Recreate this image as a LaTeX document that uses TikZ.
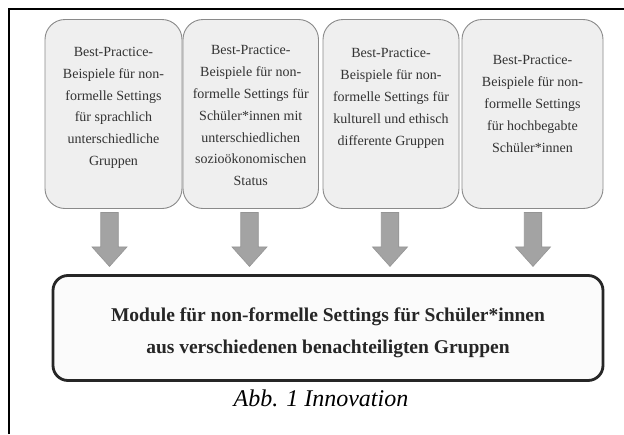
\documentclass[tikz,border=0pt]{standalone}
\usepackage{fontspec}
\setmainfont{Liberation Serif}
\usetikzlibrary{calc}
\definecolor{boxfill}{HTML}{EFEFEF}
\definecolor{boxline}{HTML}{8A8A8A}
\definecolor{txtgray}{HTML}{333333}
\definecolor{arrfill}{HTML}{A3A3A3}
\definecolor{arrline}{HTML}{959595}
\definecolor{mainline}{HTML}{262626}
\definecolor{mainfill}{HTML}{FBFBFB}
\tikzset{
  srcbox/.style={draw=boxline, line width=0.9pt, fill=boxfill, rounded corners=20pt, minimum height=189pt, inner sep=0pt},
  srctext/.style={align=center, text=txtgray, font=\fontsize{14}{21.8}\selectfont, inner sep=0pt, anchor=north},
  mainbox/.style={draw=mainline, line width=2.8pt, fill=mainfill, rounded corners=15pt, minimum width=550pt, minimum height=105pt},
  maintext/.style={align=center, font=\fontsize{19.5}{32}\selectfont\bfseries, text=black!85, inner sep=0pt},
  bigarrow/.style={fill=arrfill, draw=arrline, line width=0.6pt, line join=miter}
}
\begin{document}
\begin{tikzpicture}[x=1pt,y=-1pt]
\useasboundingbox (0,0) rectangle (624,434);
\fill[white] (0,0) rectangle (624,434);
% frame
\draw[line width=1.6pt] (9,434) -- (9,9) -- (624,9);
% source boxes
\node[srcbox, minimum width=137pt] (b1) at (113.5,114) {};
\node[srcbox, minimum width=135.5pt] (b2) at (250.75,114) {};
\node[srcbox, minimum width=136pt] (b3) at (391,114) {};
\node[srcbox, minimum width=141pt] (b4) at (532.5,114) {};
\node[srctext] (t1) at (113.5,47) {Best-Practice-\\Beispiele für non-\\formelle Settings\\für sprachlich\\unterschiedliche\\Gruppen};
\node[srctext] (t2) at (250.75,45.5) {Best-Practice-\\Beispiele für non-\\formelle Settings für\\Schüler*innen mit\\unterschiedlichen\\sozioökonomischen\\Status};
\node[srctext] (t3) at (391,48.5) {Best-Practice-\\Beispiele für non-\\formelle Settings für\\kulturell und ethisch\\differente Gruppen};
\node[srctext] (t4) at (532.5,55.5) {Best-Practice-\\Beispiele für non-\\formelle Settings\\für hochbegabte\\Schüler*innen};
% main box
\node[mainbox] (m) at (328,328) {};
\node[maintext] (mt) at (328,333) {Module für non-formelle Settings für Schüler*innen\\aus verschiedenen benachteiligten Gruppen};
% arrows
\coordinate (a1) at ($(b1.south)+(-4,3.5)$);
\coordinate (a2) at ($(b2.south)+(-1.25,3.5)$);
\coordinate (a3) at ($(b3.south)+(-1,3.5)$);
\coordinate (a4) at ($(b4.south)+(0.5,3.5)$);
\foreach \a in {a1,a2,a3,a4}{
  \draw[bigarrow] (\a) ++(-8.75,0) -- ++(17.5,0) -- ++(0,34.5) -- ++(8.75,0) -- ++(-17.5,19.5) -- ++(-17.5,-19.5) -- ++(8.75,0) -- cycle;
}
% caption
\node[font=\fontsize{24}{28}\selectfont\itshape, anchor=base, inner sep=0pt] (cap) at (321,406.5) {Abb. 1 Innovation};
\end{tikzpicture}
\end{document}
